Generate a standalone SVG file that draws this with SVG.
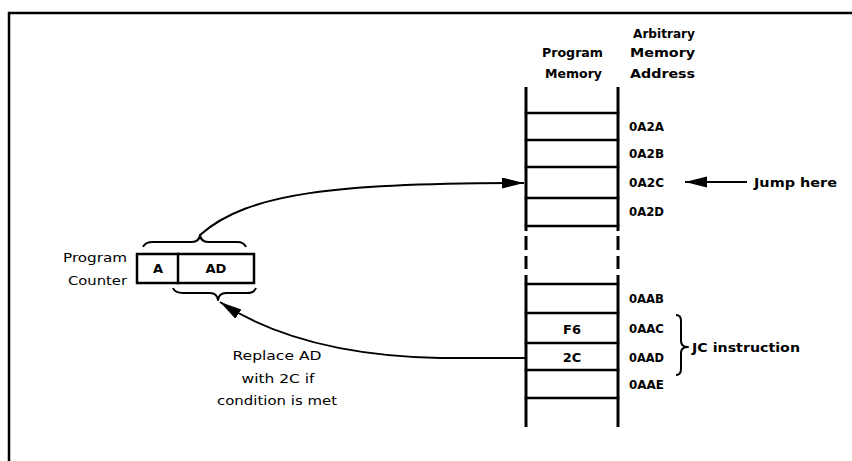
<svg xmlns="http://www.w3.org/2000/svg" width="852" height="461" viewBox="0 0 852 461">
<style>
  .ln { stroke:#000; stroke-width:2.5; fill:none; stroke-linecap:square; }
  .col { stroke:#000; stroke-width:3; fill:none; }
  .wire { stroke:#000; stroke-width:2; fill:none; }
  .brace { stroke:#000; stroke-width:2; fill:none; stroke-linejoin:round; }
  .b { font-family:"DejaVu Sans", "Liberation Sans", sans-serif; font-weight:bold; font-size:13px; fill:#000; }
  .r { font-family:"DejaVu Sans", "Liberation Sans", sans-serif; font-size:13px; fill:#000; }
  .m { text-anchor:middle; }
</style>
<defs>
  <marker id="ah" markerUnits="userSpaceOnUse" markerWidth="24" markerHeight="12" refX="22" refY="5.5" orient="auto">
    <path d="M0,0 L22,5.5 L0,11 z" fill="#000"/>
  </marker>
</defs>
<rect width="852" height="461" fill="#fff"/>

<g id="frame">
  <path class="ln" d="M9,461 L9,13 L852,13"/>
</g>

<g id="program-memory">
  <path class="col" d="M526,87 V231 M526,236 V250 M526,256 V269 M526,275 V427"/>
  <path class="col" d="M618,87 V231 M618,236 V250 M618,256 V269 M618,275 V427"/>
  <path class="ln" d="M526,113 H618 M526,140 H618 M526,167 H618 M526,198 H618 M526,226 H618 M526,284 H618 M526,313 H618 M526,343 H618 M526,370 H618 M526,398 H618"/>
  <text class="b m" x="572" y="334">F6</text>
  <text class="b m" x="572" y="362">2C</text>
</g>

<g id="headers">
  <text class="b" x="633" y="38" textLength="62" lengthAdjust="spacingAndGlyphs">Arbitrary</text>
  <text class="b" x="542" y="57" textLength="61" lengthAdjust="spacingAndGlyphs">Program</text>
  <text class="b" x="630" y="57" textLength="65" lengthAdjust="spacingAndGlyphs">Memory</text>
  <text class="b" x="545" y="78" textLength="57" lengthAdjust="spacingAndGlyphs">Memory</text>
  <text class="b" x="630" y="78" textLength="65" lengthAdjust="spacingAndGlyphs">Address</text>
</g>

<g id="addresses">
  <text class="b" x="629" y="131" textLength="35" lengthAdjust="spacingAndGlyphs">0A2A</text>
  <text class="b" x="629" y="158" textLength="35" lengthAdjust="spacingAndGlyphs">0A2B</text>
  <text class="b" x="629" y="187" textLength="35" lengthAdjust="spacingAndGlyphs">0A2C</text>
  <text class="b" x="629" y="216" textLength="35" lengthAdjust="spacingAndGlyphs">0A2D</text>
  <text class="b" x="629" y="303" textLength="35" lengthAdjust="spacingAndGlyphs">0AAB</text>
  <text class="b" x="629" y="333" textLength="35" lengthAdjust="spacingAndGlyphs">0AAC</text>
  <text class="b" x="629" y="362" textLength="35" lengthAdjust="spacingAndGlyphs">0AAD</text>
  <text class="b" x="629" y="389" textLength="35" lengthAdjust="spacingAndGlyphs">0AAE</text>
</g>

<g id="jump-here">
  <text class="b" x="754" y="187" textLength="83" lengthAdjust="spacingAndGlyphs">Jump here</text>
</g>

<g id="jc-instruction">
  <path class="brace" d="M676,315 Q681,315 681,321 L681,341 Q681,347 688,347 Q681,347 681,353 L681,369 Q681,375 676,375"/>
  <text class="b" x="692" y="352" textLength="108" lengthAdjust="spacingAndGlyphs">JC instruction</text>
</g>

<g id="program-counter">
  <rect x="137" y="254" width="117" height="29" class="ln"/>
  <line x1="178" y1="254" x2="178" y2="283" class="ln"/>
  <text class="b m" x="158" y="273">A</text>
  <text class="b m" x="216" y="273">AD</text>
  <text class="r" x="63" y="262" textLength="64" lengthAdjust="spacingAndGlyphs">Program</text>
  <text class="r" x="68" y="285" textLength="59" lengthAdjust="spacingAndGlyphs">Counter</text>
  <path class="brace" d="M143,247 Q145,242 153,242 L192,242 Q199,242 200,235 Q201,242 208,242 L237,242 Q244,242 246,247"/>
  <path class="brace" d="M173,288 Q175,293 183,293 L210,293 Q217,293 218,300 Q219,293 226,293 L247,293 Q254,293 256,288"/>
</g>

<g id="replace-note">
  <text class="r m" x="277" y="360" textLength="89" lengthAdjust="spacingAndGlyphs">Replace AD</text>
  <text class="r m" x="278" y="383" textLength="73" lengthAdjust="spacingAndGlyphs">with 2C if</text>
  <text class="r m" x="277" y="405" textLength="120" lengthAdjust="spacingAndGlyphs">condition is met</text>
</g>

<g id="connectors">
  <path class="wire" d="M200,235 C248,192 340,183 524,183" marker-end="url(#ah)"/>
  <path class="wire" d="M526,358 L440,358 C340,356 270,335 220,302" marker-end="url(#ah)"/>
  <path class="wire" d="M747,182 L685,182" marker-end="url(#ah)"/>
</g>
</svg>
